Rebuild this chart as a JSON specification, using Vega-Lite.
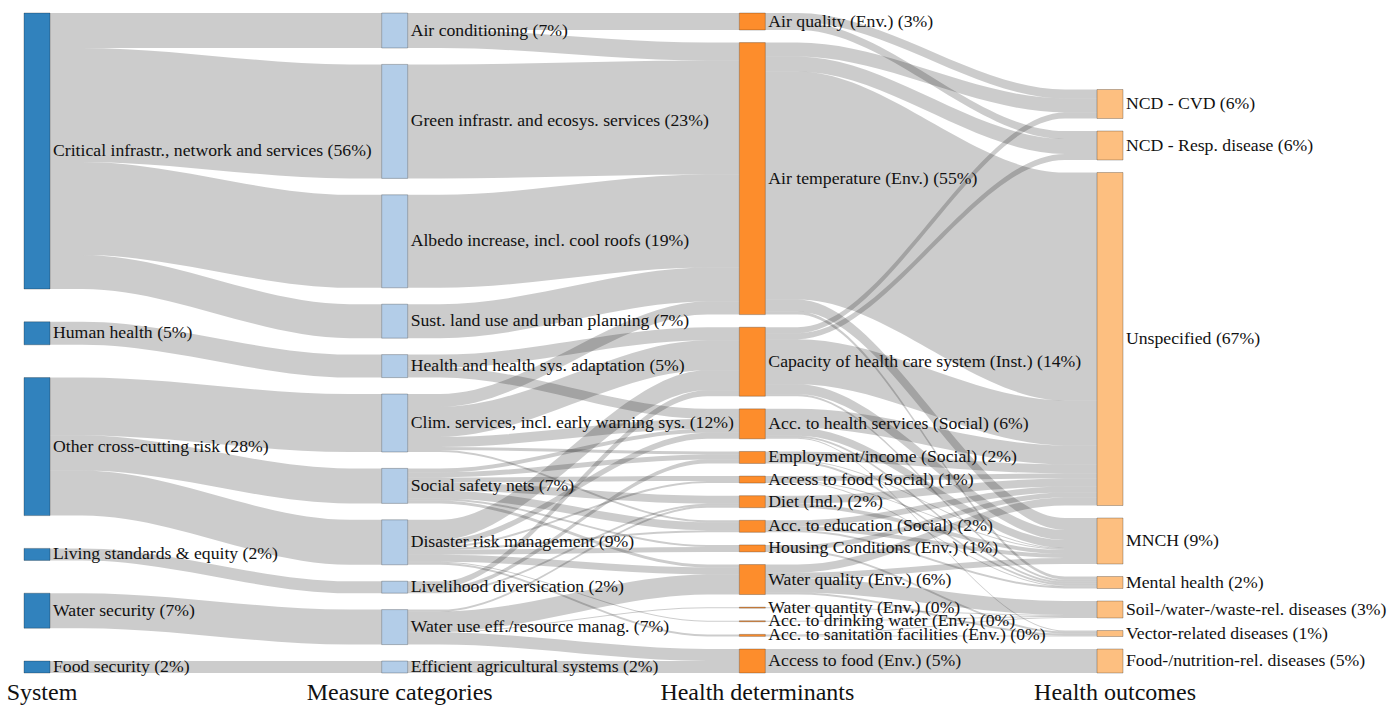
{
  "$schema": "https://vega.github.io/schema/vega-lite/v6.json",
  "width": 1387,
  "height": 705,
  "autosize": {"type": "fit", "contains": "padding"},
  "padding": 0,
  "background": "white",
  "config": {"view": {"stroke": null}},
  "datasets": {
    "sankey": [
      {"kind": "node", "id": "CI", "stage": 0, "order": 1, "label": "Critical infrastr., network and services (56%)"},
      {"kind": "node", "id": "HH", "stage": 0, "order": 2, "label": "Human health (5%)"},
      {"kind": "node", "id": "OCC", "stage": 0, "order": 3, "label": "Other cross-cutting risk (28%)"},
      {"kind": "node", "id": "LS", "stage": 0, "order": 4, "label": "Living standards & equity (2%)"},
      {"kind": "node", "id": "WS", "stage": 0, "order": 5, "label": "Water security (7%)"},
      {"kind": "node", "id": "FS", "stage": 0, "order": 6, "label": "Food security (2%)"},
      {"kind": "node", "id": "AC", "stage": 1, "order": 1, "label": "Air conditioning (7%)"},
      {"kind": "node", "id": "GI", "stage": 1, "order": 2, "label": "Green infrastr. and ecosys. services (23%)"},
      {"kind": "node", "id": "AL", "stage": 1, "order": 3, "label": "Albedo increase, incl. cool roofs (19%)"},
      {"kind": "node", "id": "SL", "stage": 1, "order": 4, "label": "Sust. land use and urban planning (7%)"},
      {"kind": "node", "id": "HSA", "stage": 1, "order": 5, "label": "Health and health sys. adaptation (5%)"},
      {"kind": "node", "id": "CS", "stage": 1, "order": 6, "label": "Clim. services, incl. early warning sys. (12%)"},
      {"kind": "node", "id": "SSN", "stage": 1, "order": 7, "label": "Social safety nets (7%)"},
      {"kind": "node", "id": "DRM", "stage": 1, "order": 8, "label": "Disaster risk management (9%)"},
      {"kind": "node", "id": "LD", "stage": 1, "order": 9, "label": "Livelihood diversication (2%)"},
      {"kind": "node", "id": "WUE", "stage": 1, "order": 10, "label": "Water use eff./resource manag. (7%)"},
      {"kind": "node", "id": "EAS", "stage": 1, "order": 11, "label": "Efficient agricultural systems (2%)"},
      {"kind": "node", "id": "AQ", "stage": 2, "order": 1, "label": "Air quality (Env.) (3%)"},
      {"kind": "node", "id": "AT", "stage": 2, "order": 2, "label": "Air temperature (Env.) (55%)"},
      {"kind": "node", "id": "CHC", "stage": 2, "order": 3, "label": "Capacity of health care system (Inst.) (14%)"},
      {"kind": "node", "id": "AHS", "stage": 2, "order": 4, "label": "Acc. to health services (Social) (6%)"},
      {"kind": "node", "id": "EMP", "stage": 2, "order": 5, "label": "Employment/income (Social) (2%)"},
      {"kind": "node", "id": "AFS", "stage": 2, "order": 6, "label": "Access to food (Social) (1%)"},
      {"kind": "node", "id": "DIET", "stage": 2, "order": 7, "label": "Diet (Ind.) (2%)"},
      {"kind": "node", "id": "AED", "stage": 2, "order": 8, "label": "Acc. to education (Social) (2%)"},
      {"kind": "node", "id": "HOU", "stage": 2, "order": 9, "label": "Housing Conditions (Env.) (1%)"},
      {"kind": "node", "id": "WQ", "stage": 2, "order": 10, "label": "Water quality (Env.) (6%)"},
      {"kind": "node", "id": "WQN", "stage": 2, "order": 11, "label": "Water quantity (Env.) (0%)"},
      {"kind": "node", "id": "ADW", "stage": 2, "order": 12, "label": "Acc. to drinking water (Env.) (0%)"},
      {"kind": "node", "id": "ASF", "stage": 2, "order": 13, "label": "Acc. to sanitation facilities (Env.) (0%)"},
      {"kind": "node", "id": "AFE", "stage": 2, "order": 14, "label": "Access to food (Env.) (5%)"},
      {"kind": "node", "id": "CVD", "stage": 3, "order": 1, "label": "NCD - CVD (6%)"},
      {"kind": "node", "id": "RESP", "stage": 3, "order": 2, "label": "NCD - Resp. disease (6%)"},
      {"kind": "node", "id": "UNS", "stage": 3, "order": 3, "label": "Unspecified (67%)"},
      {"kind": "node", "id": "MNCH", "stage": 3, "order": 4, "label": "MNCH (9%)"},
      {"kind": "node", "id": "MH", "stage": 3, "order": 5, "label": "Mental health (2%)"},
      {"kind": "node", "id": "SOIL", "stage": 3, "order": 6, "label": "Soil-/water-/waste-rel. diseases (3%)"},
      {"kind": "node", "id": "VEC", "stage": 3, "order": 7, "label": "Vector-related diseases (1%)"},
      {"kind": "node", "id": "FN", "stage": 3, "order": 8, "label": "Food-/nutrition-rel. diseases (5%)"},

      {"kind": "link", "source": "CI", "target": "AC", "value": 35},
      {"kind": "link", "source": "CI", "target": "GI", "value": 114},
      {"kind": "link", "source": "CI", "target": "AL", "value": 93},
      {"kind": "link", "source": "CI", "target": "SL", "value": 34},
      {"kind": "link", "source": "HH", "target": "HSA", "value": 23},
      {"kind": "link", "source": "OCC", "target": "CS", "value": 58},
      {"kind": "link", "source": "OCC", "target": "SSN", "value": 35},
      {"kind": "link", "source": "OCC", "target": "DRM", "value": 45},
      {"kind": "link", "source": "LS", "target": "LD", "value": 12},
      {"kind": "link", "source": "WS", "target": "WUE", "value": 35},
      {"kind": "link", "source": "FS", "target": "EAS", "value": 12},

      {"kind": "link", "source": "AC", "target": "AQ", "value": 17},
      {"kind": "link", "source": "AC", "target": "AT", "value": 18},
      {"kind": "link", "source": "GI", "target": "AT", "value": 114},
      {"kind": "link", "source": "AL", "target": "AT", "value": 93},
      {"kind": "link", "source": "SL", "target": "AT", "value": 34},
      {"kind": "link", "source": "HSA", "target": "CHC", "value": 13},
      {"kind": "link", "source": "HSA", "target": "AHS", "value": 10},
      {"kind": "link", "source": "CS", "target": "AT", "value": 13},
      {"kind": "link", "source": "CS", "target": "CHC", "value": 30},
      {"kind": "link", "source": "CS", "target": "AHS", "value": 10},
      {"kind": "link", "source": "CS", "target": "EMP", "value": 3},
      {"kind": "link", "source": "CS", "target": "AED", "value": 2},
      {"kind": "link", "source": "SSN", "target": "AHS", "value": 4},
      {"kind": "link", "source": "SSN", "target": "EMP", "value": 5},
      {"kind": "link", "source": "SSN", "target": "AFS", "value": 5},
      {"kind": "link", "source": "SSN", "target": "DIET", "value": 8},
      {"kind": "link", "source": "SSN", "target": "AED", "value": 8},
      {"kind": "link", "source": "SSN", "target": "HOU", "value": 2},
      {"kind": "link", "source": "SSN", "target": "WQ", "value": 3},
      {"kind": "link", "source": "DRM", "target": "CHC", "value": 20},
      {"kind": "link", "source": "DRM", "target": "AHS", "value": 6},
      {"kind": "link", "source": "DRM", "target": "AFS", "value": 2},
      {"kind": "link", "source": "DRM", "target": "AED", "value": 2},
      {"kind": "link", "source": "DRM", "target": "HOU", "value": 5},
      {"kind": "link", "source": "DRM", "target": "WQ", "value": 7},
      {"kind": "link", "source": "DRM", "target": "ADW", "value": 1},
      {"kind": "link", "source": "DRM", "target": "ASF", "value": 2},
      {"kind": "link", "source": "LD", "target": "CHC", "value": 6},
      {"kind": "link", "source": "LD", "target": "EMP", "value": 4},
      {"kind": "link", "source": "LD", "target": "DIET", "value": 2},
      {"kind": "link", "source": "WUE", "target": "WQ", "value": 20},
      {"kind": "link", "source": "WUE", "target": "DIET", "value": 2},
      {"kind": "link", "source": "WUE", "target": "WQN", "value": 1},
      {"kind": "link", "source": "WUE", "target": "AFE", "value": 12},
      {"kind": "link", "source": "EAS", "target": "AFE", "value": 12},

      {"kind": "link", "source": "AQ", "target": "CVD", "value": 9},
      {"kind": "link", "source": "AQ", "target": "RESP", "value": 8},
      {"kind": "link", "source": "AT", "target": "CVD", "value": 14},
      {"kind": "link", "source": "AT", "target": "RESP", "value": 15},
      {"kind": "link", "source": "AT", "target": "UNS", "value": 228},
      {"kind": "link", "source": "AT", "target": "MNCH", "value": 12},
      {"kind": "link", "source": "AT", "target": "MH", "value": 3},
      {"kind": "link", "source": "CHC", "target": "CVD", "value": 6},
      {"kind": "link", "source": "CHC", "target": "RESP", "value": 6},
      {"kind": "link", "source": "CHC", "target": "UNS", "value": 45},
      {"kind": "link", "source": "CHC", "target": "MNCH", "value": 10},
      {"kind": "link", "source": "CHC", "target": "MH", "value": 2},
      {"kind": "link", "source": "AHS", "target": "UNS", "value": 19},
      {"kind": "link", "source": "AHS", "target": "MNCH", "value": 8},
      {"kind": "link", "source": "AHS", "target": "MH", "value": 2},
      {"kind": "link", "source": "AHS", "target": "VEC", "value": 1},
      {"kind": "link", "source": "EMP", "target": "UNS", "value": 9},
      {"kind": "link", "source": "EMP", "target": "MNCH", "value": 1},
      {"kind": "link", "source": "EMP", "target": "MH", "value": 2},
      {"kind": "link", "source": "AFS", "target": "UNS", "value": 5},
      {"kind": "link", "source": "AFS", "target": "MNCH", "value": 1},
      {"kind": "link", "source": "AFS", "target": "MH", "value": 1},
      {"kind": "link", "source": "DIET", "target": "UNS", "value": 8},
      {"kind": "link", "source": "DIET", "target": "MNCH", "value": 4},
      {"kind": "link", "source": "AED", "target": "UNS", "value": 6},
      {"kind": "link", "source": "AED", "target": "MNCH", "value": 4},
      {"kind": "link", "source": "AED", "target": "MH", "value": 2},
      {"kind": "link", "source": "HOU", "target": "UNS", "value": 5},
      {"kind": "link", "source": "HOU", "target": "VEC", "value": 2},
      {"kind": "link", "source": "WQ", "target": "UNS", "value": 8},
      {"kind": "link", "source": "WQ", "target": "MNCH", "value": 6},
      {"kind": "link", "source": "WQ", "target": "SOIL", "value": 14},
      {"kind": "link", "source": "WQ", "target": "VEC", "value": 2},
      {"kind": "link", "source": "WQN", "target": "SOIL", "value": 1},
      {"kind": "link", "source": "ADW", "target": "SOIL", "value": 1},
      {"kind": "link", "source": "ASF", "target": "SOIL", "value": 1},
      {"kind": "link", "source": "ASF", "target": "VEC", "value": 1},
      {"kind": "link", "source": "AFE", "target": "FN", "value": 24}
    ],
    "stages": [
      {"stage": 0, "title": "System"},
      {"stage": 1, "title": "Measure categories"},
      {"stage": 2, "title": "Health determinants"},
      {"stage": 3, "title": "Health outcomes"}
    ]
  },
  "layer": [
    {
      "data": {"name": "sankey"},
      "transform": [
        {"calculate": "datum.kind === 'node' ? datum.id : datum.source", "as": "k1"},
        {"calculate": "datum.kind === 'node' ? datum.id : datum.target", "as": "k2"},
        {"joinaggregate": [
          {"op": "sum", "field": "value", "as": "outSum"},
          {"op": "max", "field": "stage", "as": "sst"},
          {"op": "max", "field": "order", "as": "so"}
        ], "groupby": ["k1"]},
        {"joinaggregate": [
          {"op": "sum", "field": "value", "as": "inSum"},
          {"op": "max", "field": "stage", "as": "tst"},
          {"op": "max", "field": "order", "as": "to"}
        ], "groupby": ["k2"]},
        {"calculate": "datum.kind === 'node' ? max(isValid(datum.outSum) && isFinite(datum.outSum) ? datum.outSum : 0, isValid(datum.inSum) && isFinite(datum.inSum) ? datum.inSum : 0) : 0", "as": "nv"},
        {"window": [
          {"op": "sum", "field": "nv", "as": "cum"},
          {"op": "row_number", "as": "rn"}
        ], "groupby": ["kind", "sst"], "sort": [{"field": "so", "order": "ascending"}]},
        {"joinaggregate": [
          {"op": "sum", "field": "nv", "as": "tot"},
          {"op": "count", "as": "n"}
        ], "groupby": ["kind", "sst"]},
        {"calculate": "datum.sst === 3 ? 12.5 : (660 - datum.tot) / (datum.n - 1)", "as": "pad"},
        {"calculate": "datum.kind === 'node' ? 660 - datum.tot - (datum.n - 1) * datum.pad + datum.cum - datum.nv + (datum.rn - 1) * datum.pad : null", "as": "y0"},
        {"joinaggregate": [{"op": "max", "field": "y0", "as": "sy0"}], "groupby": ["k1"]},
        {"joinaggregate": [{"op": "max", "field": "y0", "as": "ty0"}], "groupby": ["k2"]},
        {"window": [{"op": "sum", "field": "value", "as": "sc"}], "groupby": ["kind", "k1"], "sort": [{"field": "to", "order": "ascending"}]},
        {"window": [{"op": "sum", "field": "value", "as": "tc"}], "groupby": ["kind", "k2"], "sort": [{"field": "so", "order": "ascending"}]},
        {"calculate": "datum.sy0 + datum.sc - datum.value", "as": "sy"},
        {"calculate": "datum.ty0 + datum.tc - datum.value", "as": "ty"}
      ],
      "layer": [
        {
          "transform": [
            {"filter": "datum.kind === 'link'"},
            {"calculate": "datum.sst + 0.0727", "as": "a0"},
            {"calculate": "datum.sst + 0.0727 + 0.09", "as": "a1"},
            {"calculate": "datum.tst - 0.09", "as": "a2"},
            {"calculate": "datum.tst", "as": "a3"},
            {"fold": ["a0", "a1", "a2", "a3"], "as": ["pk", "px"]},
            {"calculate": "(datum.pk === 'a0' || datum.pk === 'a1') ? datum.sy : datum.ty", "as": "yt"},
            {"calculate": "datum.yt + datum.value", "as": "yb"},
            {"calculate": "datum.source + '>' + datum.target", "as": "lid"}
          ],
          "mark": {"type": "area", "interpolate": "monotone", "fill": "#000000", "fillOpacity": 0.2, "strokeWidth": 0},
          "encoding": {
            "x": {"field": "px", "type": "quantitative", "scale": {"domain": [-0.0671, 3.8108], "nice": false, "zero": false}, "axis": null},
            "y": {"field": "yt", "type": "quantitative", "scale": {"domain": [-13, 692], "reverse": true, "nice": false, "zero": false}, "axis": null},
            "y2": {"field": "yb"},
            "detail": {"field": "lid", "type": "nominal"}
          }
        },
        {
          "transform": [
            {"filter": "datum.kind === 'node'"},
            {"calculate": "datum.y0 + datum.nv", "as": "y1"},
            {"calculate": "datum.sst + 0.0727", "as": "xe"}
          ],
          "mark": {"type": "rect", "stroke": "#000000", "strokeOpacity": 0.25, "strokeWidth": 1},
          "encoding": {
            "x": {"field": "sst", "type": "quantitative", "scale": {"domain": [-0.0671, 3.8108], "nice": false, "zero": false}, "axis": null},
            "x2": {"field": "xe"},
            "y": {"field": "y0", "type": "quantitative", "scale": {"domain": [-13, 692], "reverse": true, "nice": false, "zero": false}, "axis": null},
            "y2": {"field": "y1"},
            "fill": {"field": "sst", "type": "nominal", "scale": {"domain": [0, 1, 2, 3], "range": ["#3182bd", "#b3cde8", "#fd8d2c", "#fdbf80"]}, "legend": null}
          }
        },
        {
          "transform": [
            {"filter": "datum.kind === 'node'"},
            {"calculate": "datum.sst + 0.0727", "as": "xe"},
            {"calculate": "datum.y0 + datum.nv / 2", "as": "ym"}
          ],
          "mark": {"type": "text", "align": "left", "baseline": "middle", "dx": 3, "fontSize": 17.7, "font": "Liberation Serif", "fill": "#111111"},
          "encoding": {
            "x": {"field": "xe", "type": "quantitative", "scale": {"domain": [-0.0671, 3.8108], "nice": false, "zero": false}, "axis": null},
            "y": {"field": "ym", "type": "quantitative", "scale": {"domain": [-13, 692], "reverse": true, "nice": false, "zero": false}, "axis": null},
            "text": {"field": "label", "type": "nominal"}
          }
        }
      ]
    },
    {
      "data": {"name": "stages"},
      "transform": [{"calculate": "datum.stage + 0.0364", "as": "xc"}],
      "mark": {"type": "text", "align": "center", "baseline": "alphabetic", "dx": 5, "fontSize": 24, "font": "Liberation Serif", "fill": "#111111"},
      "encoding": {
        "x": {"field": "xc", "type": "quantitative", "scale": {"domain": [-0.0671, 3.8108], "nice": false, "zero": false}, "axis": null},
        "y": {"datum": 687, "type": "quantitative", "scale": {"domain": [-13, 692], "reverse": true, "nice": false, "zero": false}, "axis": null},
        "text": {"field": "title", "type": "nominal"}
      }
    }
  ]
}
